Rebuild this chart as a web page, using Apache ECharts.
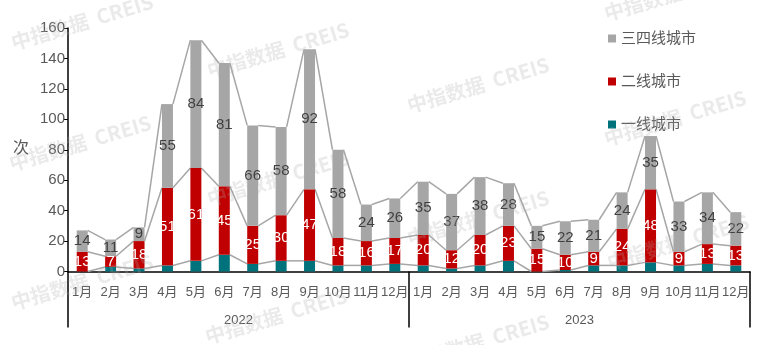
<!DOCTYPE html>
<html><head><meta charset="utf-8">
<script src="https://cdn.jsdelivr.net/npm/echarts@6/dist/echarts.min.js"></script>
<style>html,body{margin:0;padding:0;background:#fff}#c{width:773px;height:345px}</style>
</head><body><div id="c"></div>
<script>
const years = ['2022', '2023'];
const months = ['1月','2月','3月','4月','5月','6月','7月','8月','9月','10月','11月','12月'];
const seriesNames = ['一线城市', '二线城市', '三四线城市'];
// 2022 Jan..Dec, then 2023 Jan..Dec
const tier1 = [0,3,2,4,7,11,5,7,7,4,4,5,  4,2,4,7,0,1,4,4,6,4,5,4];
const tier2 = [13,7,18,51,61,45,25,30,47,18,16,17,  20,12,20,23,15,10,9,24,48,9,13,13];
const tier3 = [14,11,9,55,84,81,66,58,92,58,24,26,  35,37,38,28,15,22,21,24,35,33,34,22];
const yMin = 0, yMax = 160, yStep = 20;

const categories = [];
years.forEach(y => months.forEach(m => categories.push(y + '|' + m)));
const cum1 = tier1.slice();
const cum2 = tier1.map((v, i) => v + tier2[i]);
const cum3 = cum2.map((v, i) => v + tier3[i]);
function seg(cum) { const d = []; for (let i = 0; i < cum.length - 1; i++) d.push([i, cum[i], i + 1, cum[i + 1]]); return d; }
const BAR_W = 11;
function renderSeg(params, api) {
  const p1 = api.coord([api.value(0), api.value(1)]);
  const p2 = api.coord([api.value(2), api.value(3)]);
  return { type: 'line', shape: { x1: p1[0] + BAR_W / 2, y1: p1[1], x2: p2[0] - BAR_W / 2, y2: p2[1] },
    style: { stroke: '#A6A6A6', lineWidth: 1.5 } };
}
const FONT = '"Liberation Sans", "Noto Sans CJK SC", sans-serif';
const TXT = '#595959';
const wmPos = [[82,22],[80,143],[82,282],[278,50],[278,178],[276,316],[478,85],[478,218],[478,342],[675,-7],[675,118],[678,242]];
const watermarks = wmPos.map(p => ({
  type: 'text', x: p[0], y: p[1], rotation: 0.29, z: 100, silent: true,
  style: { text: '中指数据  CREIS', font: 'bold 20px "Noto Sans CJK SC", sans-serif',
    fill: 'rgba(170,170,170,0.25)', textAlign: 'center', textVerticalAlign: 'middle' }
}));

const chart = echarts.init(document.getElementById('c'), null, { renderer: 'canvas' });
chart.setOption({
  animation: false,
  textStyle: { fontFamily: FONT },
  grid: { left: 68, right: 23, top: 28, bottom: 73.5, containLabel: false },
  legend: {
    orient: 'vertical', left: 603, top: 26, itemWidth: 8, itemHeight: 8, itemGap: 28, icon: 'rect',
    data: ['三四线城市', '二线城市', '一线城市'],
    textStyle: { color: TXT, fontSize: 15, fontFamily: FONT }
  },
  xAxis: [{
    type: 'category', data: categories, gridIndex: 0,
    axisLine: { lineStyle: { color: '#000', width: 1.5 } },
    axisTick: { show: false },
    axisLabel: { interval: 0, formatter: v => v.split('|')[1], color: TXT, fontSize: 13, margin: 14, fontFamily: FONT }
  }, {
    type: 'category', data: years, gridIndex: 0, position: 'bottom',
    axisLine: { show: false },
    axisTick: { show: true, length: 56, lineStyle: { color: '#000', width: 1.5 } },
    axisLabel: { color: TXT, fontSize: 13, margin: 42, fontFamily: FONT }
  }],
  yAxis: {
    type: 'value', min: yMin, max: yMax, interval: yStep,
    axisLine: { show: true, lineStyle: { color: '#000', width: 1.5 } },
    axisTick: { show: true, length: 4, lineStyle: { color: '#000' } },
    splitLine: { show: false },
    axisLabel: { color: TXT, fontSize: 15, margin: 3, fontFamily: FONT }
  },
  graphic: [{
    type: 'text', left: 13, top: 139, style: { text: '次', fill: TXT, font: '16px "Noto Sans CJK SC", sans-serif' }
  }].concat(watermarks),
  series: [
    { type: 'custom', renderItem: renderSeg, data: seg(cum1), encode: { x: [0, 2], y: [1, 3] }, z: 1, silent: true },
    { type: 'custom', renderItem: renderSeg, data: seg(cum2), encode: { x: [0, 2], y: [1, 3] }, z: 1, silent: true },
    { type: 'custom', renderItem: renderSeg, data: seg(cum3), encode: { x: [0, 2], y: [1, 3] }, z: 1, silent: true },
    { name: seriesNames[0], type: 'bar', stack: 'a', barWidth: BAR_W, data: tier1, itemStyle: { color: '#00727C' }, z: 3 },
    { name: seriesNames[1], type: 'bar', stack: 'a', barWidth: BAR_W, data: tier2, itemStyle: { color: '#C00000' }, z: 3,
      label: { show: true, position: 'inside', color: '#fff', fontSize: 15, fontFamily: FONT } },
    { name: seriesNames[2], type: 'bar', stack: 'a', barWidth: BAR_W, data: tier3, itemStyle: { color: '#A6A6A6' }, z: 3,
      label: { show: true, position: 'inside', color: '#404040', fontSize: 15, fontFamily: FONT } }
  ]
});
</script></body></html>
